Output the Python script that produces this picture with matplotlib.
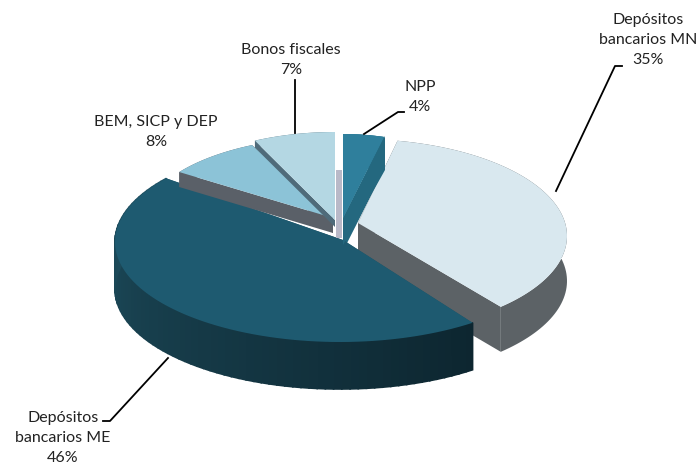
import numpy as np
import matplotlib
matplotlib.use('Agg')
import matplotlib.pyplot as plt
from matplotlib.colors import to_rgb

### Data
labels = ['NPP', 'Depósitos\nbancarios MN', 'Depósitos\nbancarios ME', 'BEM, SICP y DEP', 'Bonos fiscales']
shares = [4, 35, 46, 8, 7]

### Look of every slice, same order as shares (sizes are pixels of the 696x470 canvas)
center_x = [343, 358, 340, 333, 335]
center_y = [229, 236, 242, 222, 223]
apex_x = [343, 358, 343, 333, 335]
apex_y = [218, 223, 240, 218, 220]
radius_x = [165, 209, 225, 190, 188]
radius_y = [95, 97, 100, 85, 91]
angle_shift = [0, -3.5, 3.5, 0, 0]
depth = [33, 45, 47, 15, 7]
top_color = ['#2f7f9c', '#d9e8ef', '#1e5a70', '#8cc3d7', '#b4d7e3']
wall_start = ['#24687f', '#5c6266', '#1f5162', '#5a6068', '#4f6b7a']
wall_end = ['#24687f', '#5c6266', '#0d2630', '#5a6068', '#4f6b7a']
draw_order = [3, 4, 0, 1, 2]

plt.rcParams['font.family'] = ['Lato', 'DejaVu Sans']
fig = plt.figure(figsize=(6.96, 4.70), dpi=100)
ax = fig.add_axes([0, 0, 1, 1])
ax.set_xlim(0, 696)
ax.set_ylim(470, 0)
ax.axis('off')


def rim(i, a0, a1, n=80):
    t = np.radians(np.linspace(a0, a1, n))
    return center_x[i] + radius_x[i] * np.sin(t), center_y[i] - radius_y[i] * np.cos(t)


cum = np.concatenate([[0], np.cumsum(shares)]) / sum(shares) * 360
for i in draw_order:
    a0 = cum[i] + angle_shift[i]
    a1 = cum[i + 1] + angle_shift[i]
    x, y = rim(i, a0, a1)
    d = depth[i]
    # cut faces
    for ex, ey in [(x[0], y[0]), (x[-1], y[-1])]:
        ax.fill([apex_x[i], ex, ex, apex_x[i]], [apex_y[i], ey, ey + d, apex_y[i] + d],
                color=wall_start[i], lw=0, zorder=i)
    # outer wall, shaded piece by piece
    c0 = np.array(to_rgb(wall_start[i]))
    c1 = np.array(to_rgb(wall_end[i]))
    n = len(x)
    if wall_start[i] == wall_end[i]:
        ax.fill(np.r_[x, x[::-1]], np.r_[y, y[::-1] + d], color=c0, lw=0, zorder=i)
    else:
        for j in range(n - 1):
            f = 1 - j / (n - 2)
            ax.fill([x[j], x[j + 1], x[j + 1], x[j]], [y[j], y[j + 1], y[j + 1] + d, y[j] + d],
                    color=c0 + (c1 - c0) * f, lw=1.2, zorder=i)
    # top face
    ax.fill(np.r_[apex_x[i], x], np.r_[apex_y[i], y], color=top_color[i], lw=0, zorder=i + 0.5)

# right wall of Bonos fiscales seen through the gap
ax.fill([336, 342, 342, 336], [170, 170, 238, 238], color='#b9b9c8', lw=0, zorder=3.2)
ax.fill([343, 385, 385, 343], [218, 136, 170, 245], color=wall_start[0], lw=0, zorder=3.25)
ax.fill(np.r_[apex_x[0], rim(0, cum[0], cum[1])[0]], np.r_[apex_y[0], rim(0, cum[0], cum[1])[1]],
        color=top_color[0], lw=0, zorder=3.3)

# leaders
ax.plot([556, 615, 622], [191, 66, 66], color='k', lw=1.3, zorder=10)
ax.plot([364, 398, 404], [134, 112, 112], color='k', lw=1.3, zorder=10)
ax.plot([295, 295], [133, 80], color='k', lw=1.3, zorder=10)
ax.plot([168, 110, 103], [358, 421, 421], color='k', lw=1.3, zorder=10)

# labels
label_x = [420, 648, 63, 156, 291]
label_y = [97, 40, 438, 132, 60]
for i in range(len(labels)):
    ax.text(label_x[i], label_y[i], labels[i] + '\n' + str(shares[i]) + '%', ha='center', va='center',
            fontsize=11.5, color='#222222', linespacing=1.55, zorder=11)

plt.savefig('out.png', dpi=100)
